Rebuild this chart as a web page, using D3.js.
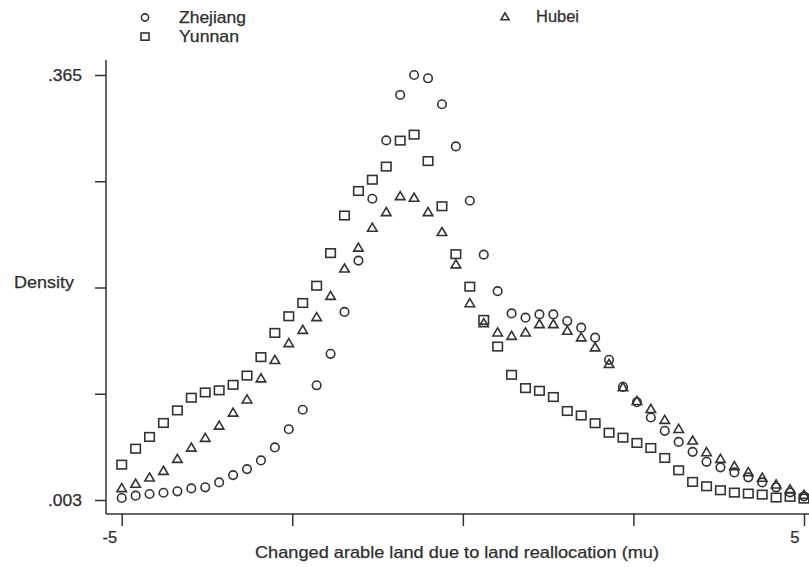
<!DOCTYPE html>
<html>
<head>
<meta charset="utf-8">
<script src="https://cdn.jsdelivr.net/npm/d3@7"></script>
<style>
  html, body { margin: 0; padding: 0; background: #fff; }
  svg { display: block; }
  text { font-family: "Liberation Sans", Arial, sans-serif; fill: #2e2e2e; stroke: #2e2e2e; stroke-width: 0.25px; }
</style>
</head>
<body>
<svg id="chart" width="809" height="567"></svg>
<script>
// ---- data (kernel density estimates, 50 evaluation points from -5 to 5) ----
const nPoints = 50;
const xMin = -5, xMax = 5;
const xGrid = d3.range(nPoints).map(i => xMin + i * (xMax - xMin) / (nPoints - 1));

const zhejiang = [
  0.0047, 0.0067, 0.0081, 0.0092, 0.0104, 0.0129, 0.0138, 0.0180, 0.0242, 0.0293,
  0.0367, 0.0478, 0.0633, 0.0799, 0.1007, 0.1275, 0.1632, 0.2069, 0.2596, 0.3093,
  0.3480, 0.3650, 0.3622, 0.3401, 0.3042, 0.2579, 0.2120, 0.1809, 0.1619, 0.1583,
  0.1611, 0.1611, 0.1554, 0.1498, 0.1413, 0.1224, 0.0994, 0.0863, 0.0733, 0.0619,
  0.0525, 0.0440, 0.0355, 0.0308, 0.0265, 0.0223, 0.0180, 0.0138, 0.0095, 0.0061
];
const yunnan = [
  0.0327, 0.0463, 0.0563, 0.0682, 0.0789, 0.0897, 0.0942, 0.0960, 0.1007, 0.1086,
  0.1243, 0.1449, 0.1591, 0.1704, 0.1851, 0.2129, 0.2449, 0.2658, 0.2754, 0.2866,
  0.3087, 0.3138, 0.2913, 0.2528, 0.2120, 0.1843, 0.1560, 0.1333, 0.1092, 0.0979,
  0.0956, 0.0903, 0.0784, 0.0746, 0.0680, 0.0599, 0.0557, 0.0512, 0.0469, 0.0384,
  0.0279, 0.0180, 0.0143, 0.0109, 0.0089, 0.0081, 0.0072, 0.0047, 0.0053, 0.0038
];
const hubei = [
  0.0129, 0.0166, 0.0219, 0.0276, 0.0378, 0.0474, 0.0557, 0.0661, 0.0772, 0.0884,
  0.1064, 0.1220, 0.1364, 0.1477, 0.1585, 0.1766, 0.1999, 0.2177, 0.2347, 0.2480,
  0.2616, 0.2602, 0.2480, 0.2310, 0.2035, 0.1704, 0.1534, 0.1455, 0.1426, 0.1455,
  0.1526, 0.1526, 0.1469, 0.1413, 0.1328, 0.1186, 0.0988, 0.0871, 0.0803, 0.0710,
  0.0633, 0.0534, 0.0435, 0.0378, 0.0316, 0.0265, 0.0217, 0.0160, 0.0118, 0.0072
];

const seriesNames = ["Zhejiang", "Yunnan", "Hubei"];
const seriesSymbols = ["circle", "square", "triangle"];
const yTicks = [0.003, 0.0935, 0.184, 0.2745, 0.365];
const yTickLabels = [".003", "", "", "", ".365"];
const xTicks = [-5, -2.5, 0, 2.5, 5];
const xTickLabels = ["-5", "", "", "", "5"];
const xTitle = "Changed arable land due to land reallocation (mu)";
const yTitle = "Density";

// ---- layout ----
const svg = d3.select("#chart");
const stroke = "#333333";
const fontSize = "16.5px";

const x = d3.scaleLinear().domain([-5, 5]).range([121.7, 804]);
const y = d3.scaleLinear().domain([0.003, 0.365]).range([500, 75]);

const plotLeft = 106, plotBottom = 514, plotTop = 60, plotRight = 809;

// axes lines
svg.append("line").attr("x1", plotLeft).attr("x2", plotLeft)
  .attr("y1", plotTop).attr("y2", plotBottom)
  .attr("stroke", stroke).attr("stroke-width", 1.5);
svg.append("line").attr("x1", plotLeft).attr("x2", plotRight)
  .attr("y1", plotBottom).attr("y2", plotBottom)
  .attr("stroke", stroke).attr("stroke-width", 1.5);

// y ticks
const yAxis = d3.axisLeft(y).tickValues(yTicks).tickSize(11).tickSizeOuter(0)
  .tickFormat((d, i) => yTickLabels[i]);
const gy = svg.append("g").attr("transform", `translate(${plotLeft},0)`).call(yAxis);
gy.select(".domain").remove();
gy.selectAll(".tick line").attr("stroke", stroke).attr("stroke-width", 1.5);
gy.selectAll(".tick text").attr("x", -24).attr("dy", "0.36em")
  .attr("font-size", null).attr("font-family", null)
  .style("font-size", fontSize)
  .attr("textLength", d => d === 0.003 || d === 0.365 ? 34 : null)
  .attr("lengthAdjust", "spacingAndGlyphs");

// x ticks
const xAxis = d3.axisBottom(x).tickValues(xTicks).tickSize(12).tickSizeOuter(0)
  .tickFormat((d, i) => xTickLabels[i]);
const gx = svg.append("g").attr("transform", `translate(0,${plotBottom})`).call(xAxis);
gx.select(".domain").remove();
gx.selectAll(".tick line").attr("stroke", stroke).attr("stroke-width", 1.5);
gx.selectAll(".tick text").attr("y", 23).attr("dy", "0.36em")
  .attr("text-anchor", "end").attr("x", -5)
  .attr("font-size", null).attr("font-family", null)
  .style("font-size", fontSize);

// titles
svg.append("text").attr("x", 457).attr("y", 558).attr("text-anchor", "middle")
  .style("font-size", fontSize).attr("textLength", 404).attr("lengthAdjust", "spacingAndGlyphs")
  .text(xTitle);
svg.append("text").attr("x", 14).attr("y", 288)
  .style("font-size", fontSize).attr("textLength", 60).attr("lengthAdjust", "spacingAndGlyphs")
  .text(yTitle);

// ---- markers ----
function drawMarker(g, kind, cx, cy, s) {
  if (kind === "circle") {
    g.append("circle").attr("cx", cx).attr("cy", cy).attr("r", s * 0.45)
      .attr("fill", "none").attr("stroke", stroke).attr("stroke-width", 1.6);
  } else if (kind === "square") {
    g.append("rect").attr("x", cx - s / 2).attr("y", cy - s / 2)
      .attr("width", s).attr("height", s * 0.9)
      .attr("fill", "none").attr("stroke", stroke).attr("stroke-width", 1.6);
  } else {
    const h = s * 0.85;
    g.append("path")
      .attr("d", `M${cx},${cy - h * 0.6}L${cx + s / 2},${cy + h * 0.4}L${cx - s / 2},${cy + h * 0.4}Z`)
      .attr("fill", "none").attr("stroke", stroke).attr("stroke-width", 1.6);
  }
}

const allSeries = [zhejiang, yunnan, hubei];
allSeries.forEach((vals, si) => {
  const g = svg.append("g").attr("class", "series-" + seriesNames[si]);
  vals.forEach((v, i) => {
    drawMarker(g, seriesSymbols[si], x(xGrid[i]), y(v), 9.5);
  });
});

// ---- legend ----
const legend = svg.append("g");
const legendItems = [
  { name: "Zhejiang", kind: "circle", mx: 145, my: 17.5, tx: 179, ty: 23 },
  { name: "Yunnan", kind: "square", mx: 145, my: 37, tx: 179, ty: 42 },
  { name: "Hubei", kind: "triangle", mx: 505, my: 17, tx: 536, ty: 22 }
];
const legendWidths = { Zhejiang: 67, Yunnan: 60, Hubei: 43 };
legendItems.forEach(it => {
  drawMarker(legend, it.kind, it.mx, it.my, 8);
  legend.append("text").attr("x", it.tx).attr("y", it.ty)
    .style("font-size", fontSize)
    .attr("textLength", legendWidths[it.name]).attr("lengthAdjust", "spacingAndGlyphs")
    .text(it.name);
});
</script>
</body>
</html>
